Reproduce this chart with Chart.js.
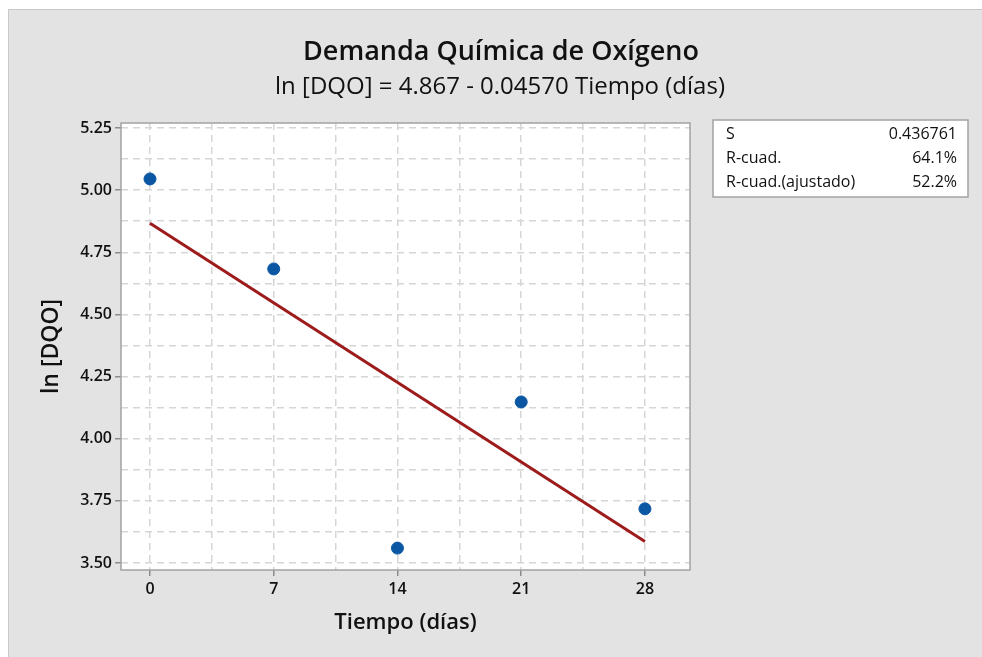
<!DOCTYPE html>
<html>
<head>
<meta charset="utf-8">
<script src="https://cdn.jsdelivr.net/npm/chart.js@4/dist/chart.umd.min.js"></script>
<style>
	html, body { margin: 0; padding: 0; background: #fff; }
	#wrap { width: 982px; height: 657px; }
</style>
</head>
<body>
<div id="wrap"><canvas id="dqo-chart" width="982" height="657"></canvas></div>
<script>
// observed values
const tiempo = [0, 7, 14, 21, 28];
const ln_dqo = [5.045, 4.683, 3.560, 4.148, 3.718];

// fitted line: ln [DQO] = 4.867 - 0.04570 Tiempo
const fit_x = [0, 28];
const fit_y = [4.867, 3.587];

const x_ticks = [0, 7, 14, 21, 28];
const y_ticks = [3.50, 3.75, 4.00, 4.25, 4.50, 4.75, 5.00, 5.25];

const title_text = 'Demanda Química de Oxígeno';
const subtitle_text = 'ln [DQO] = 4.867 - 0.04570 Tiempo (días)';
const stats_labels = ['S', 'R-cuad.', 'R-cuad.(ajustado)'];
const stats_values = ['0.436761', '64.1%', '52.2%'];

const FONT = '"Open Sans", "Noto Sans", sans-serif';

// major ticks plus a dashed minor line halfway between them
function withMinor(ticks) {
	let out = [];
	ticks.forEach((v, i) => {
		out.push(v);
		if (i < ticks.length - 1) out.push((v + ticks[i + 1]) / 2);
	});
	return out;
}

function isMajor(list, v) {
	return list.some(t => Math.abs(t - v) < 1e-6);
}

const backgroundPlugin = {
	id: 'minitabBackground',
	beforeDraw(chart) {
		const ctx = chart.ctx;
		const a = chart.chartArea;
		ctx.save();
		ctx.fillStyle = '#ffffff';
		ctx.fillRect(0, 0, chart.width, chart.height);
		ctx.fillStyle = '#e3e3e3';
		ctx.fillRect(8, 9, chart.width - 8, chart.height - 9);
		ctx.strokeStyle = '#c9c9c9';
		ctx.lineWidth = 1;
		ctx.strokeRect(8.5, 9.5, chart.width, chart.height);
		ctx.fillStyle = '#ffffff';
		ctx.fillRect(a.left, a.top, a.right - a.left, a.bottom - a.top);
		ctx.restore();
	},
	afterDraw(chart) {
		const ctx = chart.ctx;
		const a = chart.chartArea;
		ctx.save();
		// plot frame
		ctx.strokeStyle = '#a3a3a3';
		ctx.lineWidth = 1.5;
		ctx.strokeRect(a.left, a.top, a.right - a.left, a.bottom - a.top);

		// titles
		ctx.fillStyle = '#111';
		ctx.textAlign = 'center';
		ctx.textBaseline = 'middle';
		ctx.font = '600 27px ' + FONT;
		ctx.fillText(title_text, 501, 52);
		ctx.font = '500 24px ' + FONT;
		ctx.fillText(subtitle_text, 500, 87);

		// summary box
		ctx.fillStyle = '#ffffff';
		ctx.fillRect(713, 120, 255, 77);
		ctx.strokeStyle = '#a3a3a3';
		ctx.lineWidth = 1.5;
		ctx.strokeRect(713, 120, 255, 77);
		ctx.fillStyle = '#111';
		ctx.font = '500 16px ' + FONT;
		stats_labels.forEach((lbl, i) => {
			const y = 134 + i * 24;
			ctx.textAlign = 'left';
			ctx.fillText(lbl, 726, y);
			ctx.textAlign = 'right';
			ctx.fillText(stats_values[i], 957, y);
		});
		ctx.restore();
	},
};

const grid_options = {
	color: '#d6d6d6',
	lineWidth: 1.5,
	tickLength: 6,
	tickWidth: 1.5,
	tickBorderDash: [],
};

const dqo_chart_options = {
	responsive: false,
	animation: false,
	layout: {
		padding: { top: 123, right: 292, left: 0, bottom: 0 },
	},
	scales: {
		x: {
			type: 'linear',
			min: -1.64,
			max: 30.55,
			afterBuildTicks: (axis) => {
				axis.ticks = withMinor(x_ticks).map(v => ({ value: v }));
			},
			afterFit: (scale) => { scale.height = 87; },
			grid: {
				...grid_options,
				tickColor: (ctx) => (ctx.tick && isMajor(x_ticks, ctx.tick.value)) ? '#8c8c8c' : 'rgba(0,0,0,0)',
			},
			border: { display: false, dash: [7, 5] },
			ticks: {
				padding: 4,
				color: '#111',
				font: { family: FONT, size: 16, weight: '600' },
				maxRotation: 0,
				autoSkip: false,
				callback: (v) => isMajor(x_ticks, v) ? String(Math.round(v)) : '',
			},
			title: {
				display: true,
				text: 'Tiempo (días)',
				color: '#111',
				font: { family: FONT, size: 22, weight: '600' },
				padding: { top: 0, bottom: 21 },
			},
		},
		y: {
			type: 'linear',
			min: 3.472,
			max: 5.27,
			afterBuildTicks: (axis) => {
				axis.ticks = withMinor(y_ticks).map(v => ({ value: v }));
			},
			afterFit: (scale) => { scale.width = 121; },
			grid: {
				...grid_options,
				tickColor: (ctx) => (ctx.tick && isMajor(y_ticks, ctx.tick.value)) ? '#8c8c8c' : 'rgba(0,0,0,0)',
			},
			border: { display: false, dash: [7, 5] },
			ticks: {
				padding: 3,
				color: '#111',
				font: { family: FONT, size: 16, weight: '600' },
				autoSkip: false,
				callback: (v) => isMajor(y_ticks, v) ? v.toFixed(2) : '',
			},
			title: {
				display: true,
				text: 'ln [DQO]',
				color: '#111',
				font: { family: FONT, size: 23, weight: '600' },
				padding: { top: 38, bottom: 0 },
			},
		},
	},
	plugins: {
		legend: { display: false },
		tooltip: { enabled: false },
	},
};

const dqo_chart_data = {
	datasets: [
		{
			type: 'line',
			label: 'Ajuste',
			data: fit_x.map((x, i) => ({ x: x, y: fit_y[i] })),
			borderColor: '#9e1b1b',
			borderWidth: 3,
			pointRadius: 0,
			order: 2,
		},
		{
			type: 'scatter',
			label: 'ln [DQO]',
			data: tiempo.map((x, i) => ({ x: x, y: ln_dqo[i] })),
			backgroundColor: '#0b57a4',
			borderColor: '#0b57a4',
			pointRadius: 6,
			order: 1,
		},
	],
};

var dqo_chart_ctx = document.getElementById('dqo-chart').getContext('2d');
var dqo_chart = new Chart(dqo_chart_ctx, {
	type: 'scatter',
	data: dqo_chart_data,
	options: dqo_chart_options,
	plugins: [backgroundPlugin],
});
</script>
</body>
</html>
